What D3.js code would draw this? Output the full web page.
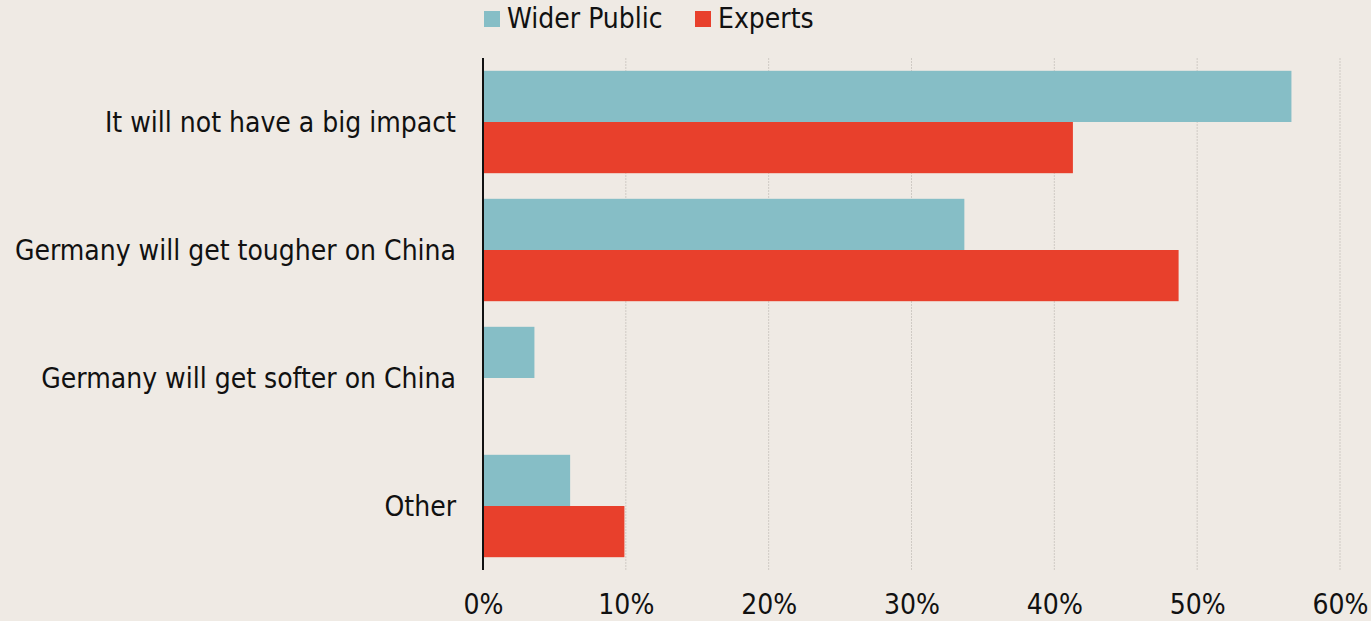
<!DOCTYPE html>
<html>
<head>
<meta charset="utf-8">
<script src="https://cdn.jsdelivr.net/npm/d3@7"></script>
<style>
  body { margin: 0; background: #efeae4; }
  svg text { font-family: "DejaVu Sans Condensed", "Noto Sans", sans-serif; fill: #111; }
</style>
</head>
<body>
<div id="chart"></div>
<script>
// categories and values (percent)
const categories = ["It will not have a big impact", "Germany will get tougher on China", "Germany will get softer on China", "Other"];
const seriesNames = ["Wider Public", "Experts"];
const widerPublic = [56.6, 33.7, 3.6, 6.1];
const experts = [41.3, 48.7, 0, 9.9];
const tickValues = [0, 10, 20, 30, 40, 50, 60];
const colors = ["#86bec6", "#e8402c"];

const width = 1371, height = 621;
const margin = { top: 58, right: 31, bottom: 51, left: 483 };

const svg = d3.select("#chart").append("svg")
    .attr("width", width)
    .attr("height", height);

svg.append("rect").attr("width", width).attr("height", height).attr("fill", "#efeae4");

const x = d3.scaleLinear().domain([0, 60]).range([margin.left, width - margin.right]);
const y = d3.scaleBand().domain(categories).range([margin.top, height - margin.bottom])
    .paddingInner(0.2).paddingOuter(0.1);
const ySub = d3.scaleBand().domain(seriesNames).range([0, y.bandwidth()]);

// gridlines
svg.append("g").selectAll("line")
    .data(tickValues.slice(1))
    .join("line")
    .attr("x1", d => x(d)).attr("x2", d => x(d))
    .attr("y1", margin.top).attr("y2", height - margin.bottom)
    .attr("stroke", "#cfcac4")
    .attr("stroke-width", 1)
    .attr("stroke-dasharray", "2,1");

// bars
const rows = categories.map((c, i) => ({ cat: c, vals: [widerPublic[i], experts[i]] }));
const groups = svg.append("g").selectAll("g")
    .data(rows)
    .join("g")
    .attr("transform", d => "translate(0," + y(d.cat) + ")");

groups.selectAll("rect")
    .data(d => d.vals.map((v, j) => ({ name: seriesNames[j], v: v, j: j })))
    .join("rect")
    .attr("x", x(0))
    .attr("y", d => ySub(d.name))
    .attr("width", d => x(d.v) - x(0))
    .attr("height", ySub.bandwidth())
    .attr("fill", d => colors[d.j]);

// y axis line
svg.append("line")
    .attr("x1", x(0)).attr("x2", x(0))
    .attr("y1", margin.top).attr("y2", height - margin.bottom)
    .attr("stroke", "#111").attr("stroke-width", 2);

// category labels
svg.append("g").selectAll("text")
    .data(categories)
    .join("text")
    .attr("x", x(0) - 27)
    .attr("y", d => y(d) + y.bandwidth() / 2)
    .attr("dy", "0.35em")
    .attr("text-anchor", "end")
    .style("font-size", "28px")
    .text(d => d);

// x tick labels
const xAxis = d3.axisBottom(x).tickValues(tickValues).tickFormat(d => d + "%").tickSize(0).tickPadding(0);
const xg = svg.append("g")
    .attr("transform", "translate(0," + (height - margin.bottom) + ")")
    .call(xAxis);
xg.select(".domain").remove();
xg.selectAll("text")
    .attr("y", 44)
    .attr("dy", 0)
    .style("font-size", "28px")
    .style("font-family", "\"DejaVu Sans Condensed\", sans-serif")
    .attr("fill", "#111");

// legend
const legendX = [484, 695];
const legend = svg.append("g").selectAll("g")
    .data(seriesNames)
    .join("g")
    .attr("transform", (d, i) => "translate(" + legendX[i] + ",11)");
legend.append("rect")
    .attr("width", 16).attr("height", 16)
    .attr("fill", (d, i) => colors[i]);
legend.append("text")
    .attr("x", 23).attr("y", 17)
    .style("font-size", "28px")
    .text(d => d);
</script>
</body>
</html>
